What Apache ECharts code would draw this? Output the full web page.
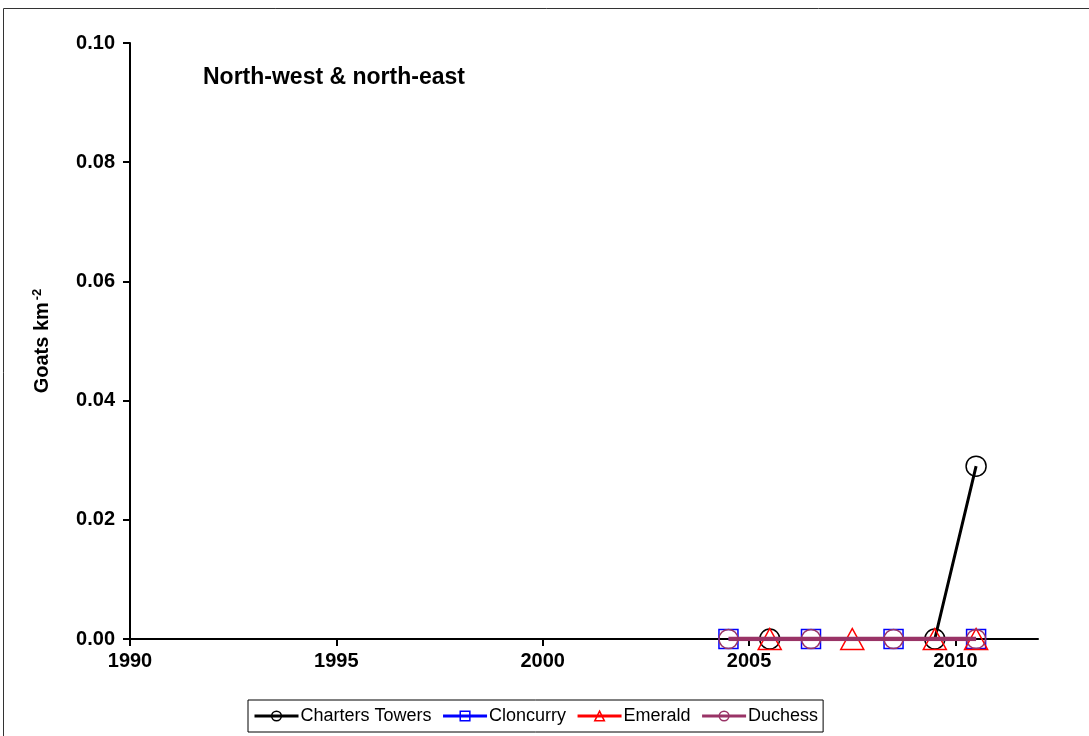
<!DOCTYPE html>
<html>
<head>
<meta charset="utf-8">
<script src="https://cdn.jsdelivr.net/npm/echarts@6/dist/echarts.min.js"></script>
<style>
html,body{margin:0;padding:0;background:#fff;}
#chart{width:1089px;height:736px;}
</style>
</head>
<body>
<div id="chart"></div>
<script>
// Data
const seriesNames = ['Charters Towers', 'Cloncurry', 'Emerald', 'Duchess'];
const chartersYears = [2005.5, 2009.5, 2010.5];
const chartersValues = [0, 0, 0.029];
const cloncurryYears = [2004.5, 2006.5, 2008.5, 2010.5];
const cloncurryValues = [0, 0, 0, 0];
const emeraldYears = [2005.5, 2007.5, 2009.5, 2010.5];
const emeraldValues = [0, 0, 0, 0];
const duchessYears = [2004.5, 2006.5, 2008.5, 2010.5];
const duchessValues = [0, 0, 0, 0];
const xTicks = [1990, 1995, 2000, 2005, 2010];
const yTicks = [0, 0.02, 0.04, 0.06, 0.08, 0.10];

function pairs(xs, ys) { return xs.map((x, i) => [x, ys[i]]); }

const colors = ['#000000', '#0000FF', '#FF0000', '#993366'];
const symbols = ['circle', 'rect', 'triangle', 'circle'];
const symbolSizes = [20, 19, [23, 21], 19];
const lineWidths = [3, 2, 2, 4.5];
const dataSets = [
  pairs(chartersYears, chartersValues),
  pairs(cloncurryYears, cloncurryValues),
  pairs(emeraldYears, emeraldValues),
  pairs(duchessYears, duchessValues)
];

const chart = echarts.init(document.getElementById('chart'), null, {renderer: 'canvas'});
const font = 'Liberation Sans, Arial, sans-serif';

chart.setOption({
  animation: false,
  backgroundColor: '#ffffff',
  textStyle: {fontFamily: font},
  title: {
    text: 'North-west & north-east',
    left: 198, top: 61,
    textStyle: {fontFamily: font, fontWeight: 'bold', fontSize: 23, color: '#000'}
  },
  grid: {left: 130, right: 51, top: 43, bottom: 97, containLabel: false},
  legend: {
    data: seriesNames,
    left: 248, top: 700,
    orient: 'horizontal',
    borderColor: '#000', borderWidth: 1,
    padding: [7, 5, 7, 5],
    itemGap: 10, itemWidth: 44, itemHeight: 12,
    lineStyle: {width: 3},
    itemStyle: {borderWidth: 1.5},
    textStyle: {fontFamily: font, fontSize: 18, color: '#000', padding: [0, 0, 0, -3]}
  },
  xAxis: {
    type: 'value', min: 1990, max: 2012, interval: 5,
    splitLine: {show: false},
    axisLine: {show: true, onZero: false, lineStyle: {color: '#000', width: 2}},
    axisTick: {show: true, inside: false, length: 7, customValues: xTicks, lineStyle: {color: '#000', width: 2}},
    axisLabel: {customValues: xTicks, margin: 12, fontFamily: font, fontWeight: 'bold', fontSize: 20, color: '#000',
      formatter: v => String(v)}
  },
  yAxis: {
    type: 'value', min: 0, max: 0.10, interval: 0.02,
    name: '{a|Goats km}{s|-2}',
    nameLocation: 'middle', nameGap: 76, nameRotate: 90,
    nameTextStyle: {
      rich: {
        a: {fontFamily: font, fontWeight: 'bold', fontSize: 20, color: '#000'},
        s: {fontFamily: font, fontWeight: 'bold', fontSize: 13, color: '#000', verticalAlign: 'top', padding: [0, 0, 10, 2]}
      }
    },
    splitLine: {show: false},
    axisLine: {show: true, lineStyle: {color: '#000', width: 2}},
    axisTick: {show: true, inside: false, length: 7, lineStyle: {color: '#000', width: 2}},
    axisLabel: {margin: 15, fontFamily: font, fontWeight: 'bold', fontSize: 20, color: '#000',
      formatter: v => v.toFixed(2)}
  },
  series: seriesNames.map((name, i) => ({
    name: name,
    type: 'line',
    data: dataSets[i],
    symbol: symbols[i],
    symbolSize: symbolSizes[i],
    showAllSymbol: true,
    z: 2 + i,
    lineStyle: {color: colors[i], width: lineWidths[i]},
    itemStyle: {color: 'rgba(255,255,255,0)', borderColor: colors[i], borderWidth: 1.5},
    emphasis: {disabled: true}
  })),
  graphic: [{
    type: 'rect', silent: true, z: -1,
    shape: {x: 3.5, y: 8.5, width: 1100, height: 740},
    style: {fill: 'none', stroke: '#333', lineWidth: 1}
  }]
});
</script>
</body>
</html>
